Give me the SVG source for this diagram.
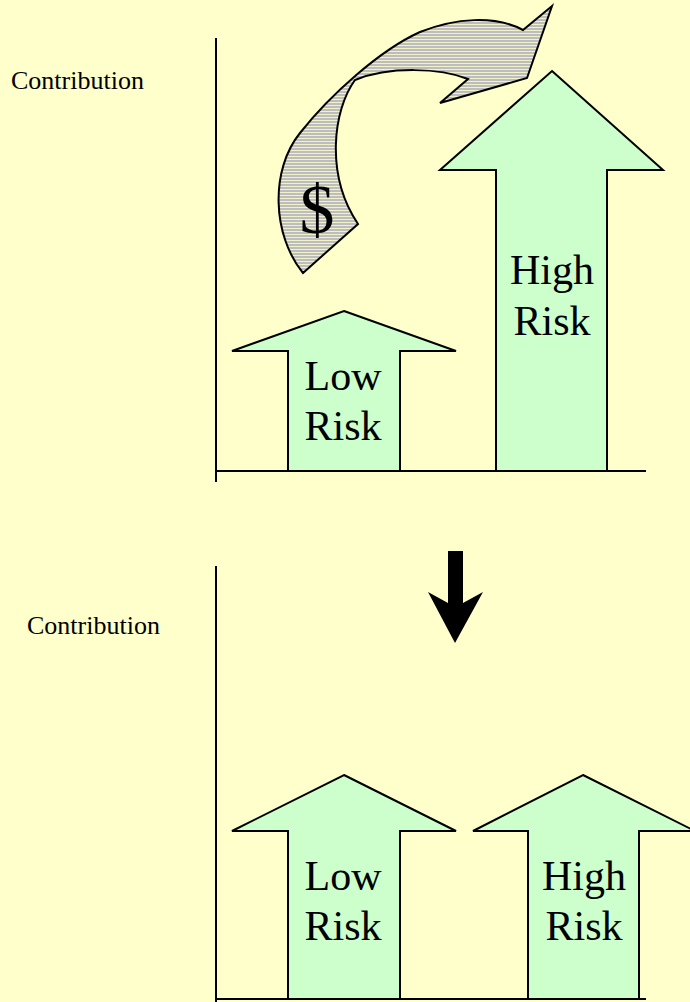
<svg xmlns="http://www.w3.org/2000/svg" width="690" height="1002" viewBox="0 0 690 1002">
<style>
.bg{fill:#FFFFCC}
.axis{stroke:#000;stroke-width:2;fill:none}
.up{fill:#CCFFCC;stroke:#000;stroke-width:2;stroke-linejoin:miter}
.lbl{font-family:"Liberation Serif",serif;font-size:26px;fill:#000}
.big{font-family:"Liberation Serif",serif;font-size:42px;fill:#000;text-anchor:middle}
.cur{fill:url(#stripes);stroke:#000;stroke-width:2;stroke-linejoin:miter}
</style>
<defs>
<pattern id="stripes" width="4" height="3" patternUnits="userSpaceOnUse">
<rect width="4" height="3" fill="#BDBDBD"/>
<rect width="4" height="1" fill="#F2F2C6"/>
</pattern>
</defs>
<rect class="bg" width="690" height="1002"/>
<g id="top-chart">
<g id="top-axes">
<line class="axis" x1="216" y1="38" x2="216" y2="482"/>
<line class="axis" x1="216" y1="471" x2="646" y2="471"/>
<text class="lbl" x="11" y="89">Contribution</text>
</g>
<g id="top-low">
<polygon class="up" points="344,311 456,351 400,351 400,471 288,471 288,351 232,351"/>
<text class="big" x="343" y="390">Low</text>
<text class="big" x="343" y="440">Risk</text>
</g>
<g id="top-high">
<polygon class="up" points="552,71 663,170 607,170 607,471 496,471 496,170 440,170"/>
<text class="big" x="552" y="284">High</text>
<text class="big" x="552" y="335">Risk</text>
</g>
<g id="transfer">
<path class="cur" d="M303,273 C272,235 270,170 300,133 C330,95 380,50 420,32 C455,18 495,15 523,30 L552,6 L527,78 L440,103 L468,79 C440,68 390,66 355,80 C333,110 325,175 358,224 Z"/>
<text x="317" y="233" font-family="Liberation Serif, serif" font-size="70" text-anchor="middle">$</text>
</g>
</g>
<g id="down-arrow">
<polygon fill="#000" points="448,551 463,551 463,603 483,592 455,643 428,592 448,603"/>
</g>
<g id="bottom-chart">
<g id="bottom-axes">
<line class="axis" x1="216" y1="566" x2="216" y2="1002"/>
<line class="axis" x1="216" y1="999" x2="646" y2="999"/>
<text class="lbl" x="27" y="634">Contribution</text>
</g>
<g id="bottom-low">
<polygon class="up" points="344,775 456,831 400,831 400,999 288,999 288,831 232,831"/>
<text class="big" x="343" y="890">Low</text>
<text class="big" x="343" y="940">Risk</text>
</g>
<g id="bottom-high">
<polygon class="up" points="583,775 695,831 639,831 639,999 528,999 528,831 473,831"/>
<text class="big" x="584" y="890">High</text>
<text class="big" x="584" y="940">Risk</text>
</g>
</g>
</svg>
